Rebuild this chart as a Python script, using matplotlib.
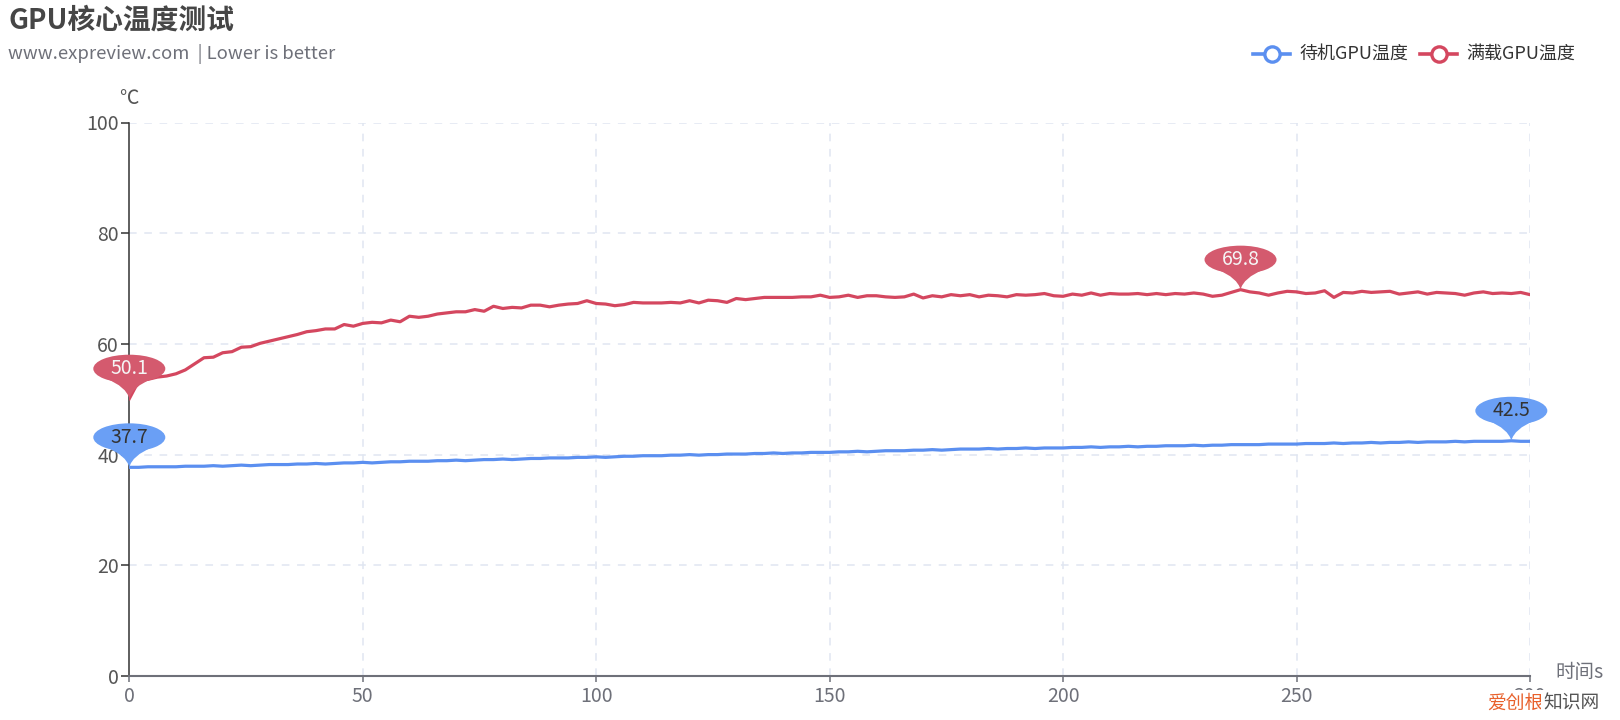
import numpy as np
import matplotlib
matplotlib.use("Agg")
import matplotlib.pyplot as plt
import matplotlib.transforms as mtransforms
from matplotlib.patches import Ellipse, PathPatch
from matplotlib.path import Path
from matplotlib.lines import Line2D

plt.rcParams['font.family'] = ['Noto Sans CJK SC', 'DejaVu Sans']

title = "GPU核心温度测试"
subtitle = "www.expreview.com  | Lower is better"
series_names = ["待机GPU温度", "满载GPU温度"]

time_s = list(range(0, 301, 2))

idle_temp = [
    37.7, 37.7, 37.8, 37.8, 37.8, 37.8, 37.9, 37.9, 37.9, 38.0,
    37.9, 38.0, 38.1, 38.0, 38.1, 38.2, 38.2, 38.2, 38.3, 38.3,
    38.4, 38.3, 38.4, 38.5, 38.5, 38.6, 38.5, 38.6, 38.7, 38.7,
    38.8, 38.8, 38.8, 38.9, 38.9, 39.0, 38.9, 39.0, 39.1, 39.1,
    39.2, 39.1, 39.2, 39.3, 39.3, 39.4, 39.4, 39.4, 39.5, 39.5,
    39.6, 39.5, 39.6, 39.7, 39.7, 39.8, 39.8, 39.8, 39.9, 39.9,
    40.0, 39.9, 40.0, 40.0, 40.1, 40.1, 40.1, 40.2, 40.2, 40.3,
    40.2, 40.3, 40.3, 40.4, 40.4, 40.4, 40.5, 40.5, 40.6, 40.5,
    40.6, 40.7, 40.7, 40.7, 40.8, 40.8, 40.9, 40.8, 40.9, 41.0,
    41.0, 41.0, 41.1, 41.0, 41.1, 41.1, 41.2, 41.1, 41.2, 41.2,
    41.2, 41.3, 41.3, 41.4, 41.3, 41.4, 41.4, 41.5, 41.4, 41.5,
    41.5, 41.6, 41.6, 41.6, 41.7, 41.6, 41.7, 41.7, 41.8, 41.8,
    41.8, 41.8, 41.9, 41.9, 41.9, 41.9, 42.0, 42.0, 42.0, 42.1,
    42.0, 42.1, 42.1, 42.2, 42.1, 42.2, 42.2, 42.3, 42.2, 42.3,
    42.3, 42.3, 42.4, 42.3, 42.4, 42.4, 42.4, 42.4, 42.5, 42.4,
    42.4,
]

load_temp = [
    50.1, 53.3, 53.6, 54.0, 54.2, 54.6, 55.3, 56.4, 57.5, 57.6,
    58.4, 58.6, 59.4, 59.5, 60.1, 60.5, 60.9, 61.3, 61.7, 62.2,
    62.4, 62.7, 62.7, 63.5, 63.2, 63.7, 63.9, 63.8, 64.3, 64.0,
    65.0, 64.8, 65.0, 65.4, 65.6, 65.8, 65.8, 66.2, 65.9, 66.8,
    66.4, 66.6, 66.5, 67.0, 67.0, 66.7, 67.0, 67.2, 67.3, 67.8,
    67.3, 67.2, 66.9, 67.1, 67.5, 67.4, 67.4, 67.4, 67.5, 67.4,
    67.8, 67.4, 67.9, 67.8, 67.5, 68.2, 68.0, 68.2, 68.4, 68.4,
    68.4, 68.4, 68.5, 68.5, 68.8, 68.4, 68.5, 68.8, 68.4, 68.7,
    68.7, 68.5, 68.4, 68.5, 69.0, 68.3, 68.7, 68.5, 68.9, 68.7,
    68.9, 68.5, 68.8, 68.7, 68.5, 68.9, 68.8, 68.9, 69.1, 68.7,
    68.6, 69.0, 68.8, 69.2, 68.8, 69.1, 69.0, 69.0, 69.1, 68.9,
    69.1, 68.9, 69.1, 69.0, 69.2, 69.0, 68.6, 68.8, 69.3, 69.8,
    69.4, 69.2, 68.8, 69.2, 69.5, 69.4, 69.1, 69.2, 69.6, 68.4,
    69.3, 69.2, 69.5, 69.3, 69.4, 69.5, 69.0, 69.2, 69.4, 69.0,
    69.3, 69.2, 69.1, 68.8, 69.2, 69.4, 69.1, 69.2, 69.1, 69.3,
    68.9,
]

x_ticks = [0, 50, 100, 150, 200, 250, 300]
y_ticks = [0, 20, 40, 60, 80, 100]

blue_line = '#5B8FF0'
blue_pin = '#6A9FF5'
red_line = '#D4475F'
red_pin = '#D45A6E'
grid_c = '#E0E6F1'
label_c = '#6E7079'

W, H = 1620, 720
fig = plt.figure(figsize=(W / 100, H / 100), dpi=100)

def fx(px):
    return px / W

def fy(py):
    return 1 - py / H

ax = fig.add_axes([fx(129.3), fy(676), fx(1530) - fx(129.3), fy(122.5) - fy(676)])
ax.set_xlim(0, 300)
ax.set_ylim(0, 100)

for v in x_ticks[1:]:
    ax.axvline(v, color=grid_c, lw=1.1, ls=(0, (5, 5)), zorder=0)
for v in y_ticks[1:]:
    ax.axhline(v, color=grid_c, lw=1.1, ls=(0, (5, 5)), zorder=0)

ax.plot(time_s, idle_temp, color=blue_line, lw=2.3, zorder=3, solid_joinstyle='round')
ax.plot(time_s, load_temp, color=red_line, lw=2.3, zorder=3, solid_joinstyle='round')

for s in ['top', 'right']:
    ax.spines[s].set_visible(False)
ax.spines['left'].set_color('#333333')
ax.spines['left'].set_linewidth(1.1)
ax.spines['bottom'].set_color('#6E7079')
ax.spines['bottom'].set_linewidth(1.5)

ax.set_xticks(x_ticks)
ax.set_yticks(y_ticks)
ax.set_xticklabels([str(v) for v in x_ticks])
ax.set_yticklabels([str(v) for v in y_ticks])
ax.tick_params(axis='y', length=5.5, width=1.1, color='#333333', pad=2,
               labelsize=14, labelcolor='#555555')
ax.tick_params(axis='x', length=4.5, width=1.1, color='#6E7079', pad=3,
               labelsize=14, labelcolor=label_c)

# pins (markPoint max / min)
def pin(x, y, text, fc, tc):
    trans = fig.dpi_scale_trans + mtransforms.ScaledTranslation(x, y, ax.transData)
    ell = Ellipse((0, 0.30), 0.72, 0.28, facecolor=fc, edgecolor='none',
                  transform=trans, zorder=5, clip_on=False)
    verts = [(-0.23, 0.20), (-0.03, 0.12), (0, 0), (0.03, 0.12), (0.23, 0.20), (-0.23, 0.20)]
    codes = [Path.MOVETO, Path.CURVE3, Path.CURVE3, Path.CURVE3, Path.CURVE3, Path.CLOSEPOLY]
    tail = PathPatch(Path(verts, codes), facecolor=fc, edgecolor='none',
                     transform=trans, zorder=5, clip_on=False)
    ax.add_patch(tail)
    ax.add_patch(ell)
    ax.annotate(text, (x, y), xytext=(0, 0.30 * 72), textcoords='offset points',
                ha='center', va='center', fontsize=14, color=tc, zorder=6,
                annotation_clip=False)

for vals, fc, tc in [(idle_temp, blue_pin, '#333333'), (load_temp, red_pin, '#F5F5F5')]:
    arr = np.array(vals)
    imax = int(np.argmax(arr))
    imin = int(np.argmin(arr))
    pin(time_s[imax], vals[imax], f"{vals[imax]:.1f}", fc, tc)
    pin(time_s[imin], vals[imin], f"{vals[imin]:.1f}", fc, tc)

# axis names
fig.text(fx(129), fy(98), "℃", ha='center', va='center', fontsize=14, color='#555555')
fig.text(fx(1555), fy(673), "时间s", ha='left', va='center', fontsize=14, color=label_c)

# title
fig.text(fx(8), fy(21), title, ha='left', va='center', fontsize=20,
         fontweight='bold', color='#464646')
fig.text(fx(8), fy(54), subtitle, ha='left', va='center', fontsize=13.3, color='#6E7079')

# legend
for (x0, name, col) in [(1253, series_names[0], blue_line), (1420, series_names[1], red_line)]:
    ln = Line2D([fx(x0), fx(x0 + 37)], [fy(54), fy(54)], transform=fig.transFigure,
                color=col, lw=2.6)
    fig.add_artist(ln)
    mk = Line2D([fx(x0 + 18.5)], [fy(54)], transform=fig.transFigure, marker='o',
                markersize=11, markerfacecolor='white', markeredgecolor=col, mew=2.4,
                linestyle='none')
    fig.add_artist(mk)
    fig.text(fx(x0 + 46), fy(54), name, ha='left', va='center', fontsize=13, color='#333333')

# watermark (with white backing, covering the lower part of the last tick label)
wm_t = fig.text(fx(1487), fy(703), "爱创根", ha='left', va='center', fontsize=13.5,
                color='#E8612C', zorder=10,
                bbox=dict(facecolor='white', edgecolor='none', pad=1.5))
fig.canvas.draw()
bb = wm_t.get_window_extent()
fig.text(bb.x1 / W, fy(703), "知识网", ha='left', va='center', fontsize=13.5,
         color='#555555', zorder=10,
         bbox=dict(facecolor='white', edgecolor='none', pad=1.5))

fig.savefig("out.png", dpi=100, facecolor='white')
